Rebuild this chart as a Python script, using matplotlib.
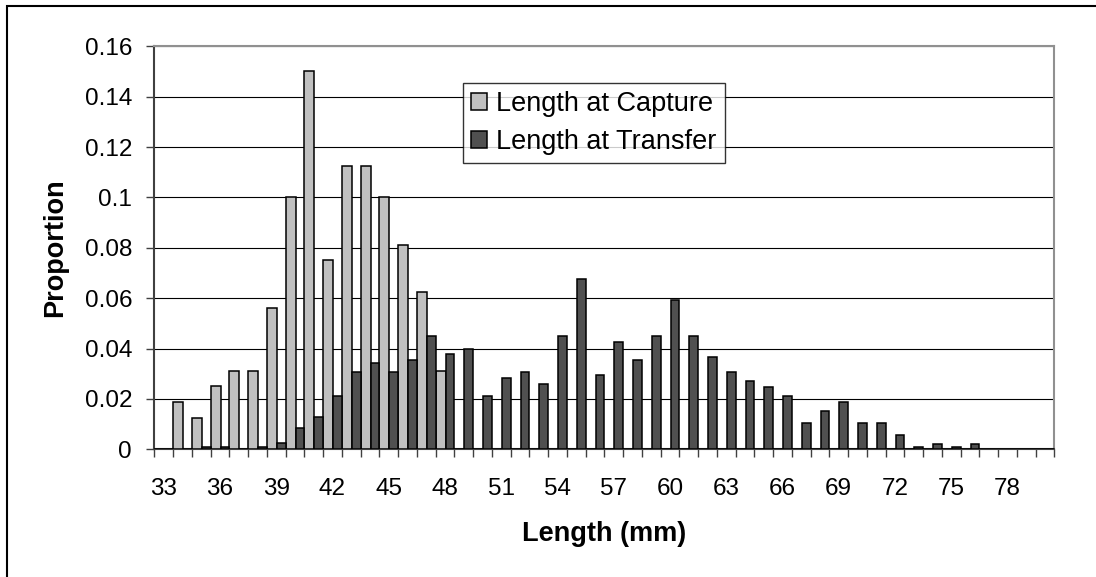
import numpy as np
import matplotlib
matplotlib.use("Agg")
import matplotlib.pyplot as plt
from matplotlib.patches import Rectangle

plt.rcParams['font.family'] = ['Liberation Sans', 'DejaVu Sans']

lengths = list(range(33, 81))
capture = [0, 0.01875, 0.0125, 0.025, 0.03125, 0.03125, 0.05625, 0.1, 0.15, 0.075,
           0.1125, 0.1125, 0.1, 0.08125, 0.0625, 0.03125, 0, 0, 0, 0,
           0, 0, 0, 0, 0, 0, 0, 0, 0, 0,
           0, 0, 0, 0, 0, 0, 0, 0, 0, 0,
           0, 0, 0, 0, 0, 0, 0, 0]
transfer = [0, 0, 0.001, 0.001, 0, 0.001, 0.0024, 0.0083, 0.013, 0.0213,
            0.0308, 0.0344, 0.0308, 0.0356, 0.045, 0.038, 0.040, 0.0213, 0.0284, 0.0308,
            0.026, 0.045, 0.0675, 0.0296, 0.0427, 0.0356, 0.045, 0.0594, 0.045, 0.0368,
            0.0308, 0.0273, 0.0249, 0.0213, 0.0106, 0.0154, 0.0189, 0.0106, 0.0106, 0.0058,
            0.001, 0.0023, 0.001, 0.0023, 0, 0, 0, 0]

fig = plt.figure(figsize=(10.96, 5.77), dpi=100)
ax = fig.add_axes([0.1408, 0.2213, 0.8212, 0.6985])

x = np.arange(len(lengths))
w1 = 0.53
ax.bar(x, capture, width=w1, align='edge', color='#c0c0c0', edgecolor='black',
       linewidth=1.1, label='Length at Capture', zorder=3)
ax.bar(x + w1, transfer, width=1 - w1, align='edge', color='#505050', edgecolor='black',
       linewidth=1.1, label='Length at Transfer', zorder=3)

ax.set_xlim(0, len(lengths))
ax.set_ylim(0, 0.16)
ax.set_yticks(np.arange(0, 0.161, 0.02))
ax.set_yticklabels(['0', '0.02', '0.04', '0.06', '0.08', '0.1', '0.12', '0.14', '0.16'])
ax.yaxis.grid(True, color='black', linewidth=0.8, zorder=0)

# ticks sit on category edges, labels on every third category centre
ax.set_xticks(np.arange(len(lengths) + 1))
ax.set_xticklabels([])
ax.set_xticks(x[::3] + 0.5, [str(v) for v in lengths[::3]], minor=True)
ax.tick_params(axis='both', which='major', length=6, width=1, color='#404040',
               labelsize=17.5, direction='out')
ax.tick_params(axis='y', which='major', pad=10)
ax.tick_params(axis='x', which='minor', length=0, pad=21, labelsize=17.5)

for s in ['top', 'right']:
    ax.spines[s].set_color('#909090')
    ax.spines[s].set_linewidth(1.5)
for s in ['left', 'bottom']:
    ax.spines[s].set_color('#404040')
    ax.spines[s].set_linewidth(1.5)

ax.set_ylabel('Proportion', fontsize=19.5, fontweight='bold', labelpad=12)
ax.set_xlabel('Length (mm)', fontsize=19.5, fontweight='bold', labelpad=15)

leg = ax.legend(loc='upper left', bbox_to_anchor=(0.343, 0.909), borderaxespad=0,
                fontsize=19.5, frameon=True, fancybox=False, edgecolor='black',
                handlelength=0.6, handleheight=0.6, handletextpad=0.33,
                borderpad=0.3, labelspacing=0.45)
leg.get_frame().set_linewidth(1.0)

fig.patches.append(Rectangle((7 / 1096, -0.1), 1.2, 1 - 6 / 577 + 0.1,
                             transform=fig.transFigure, fill=False,
                             edgecolor='black', linewidth=1.5))

fig.savefig('out.png', dpi=100)
